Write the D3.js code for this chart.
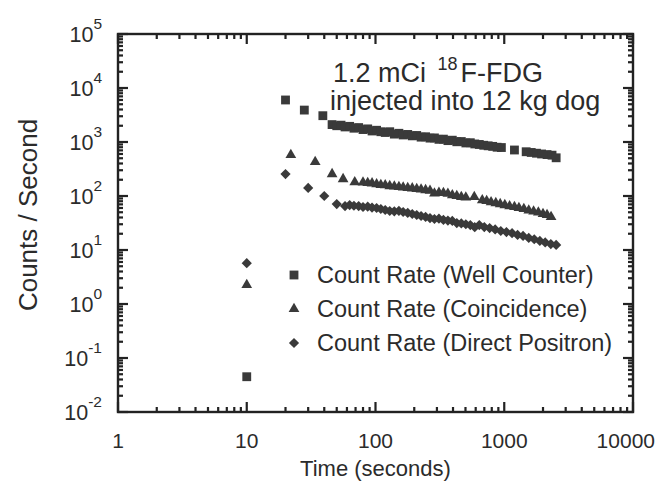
<!DOCTYPE html>
<html>
<head>
<meta charset="utf-8">
<script src="https://cdn.jsdelivr.net/npm/d3@7"></script>
<style>
  html, body { margin: 0; padding: 0; background: #fff; }
  svg { display: block; }
  text { font-family: "Liberation Sans", Arial, Helvetica, sans-serif; fill: #2b2b2b; }
</style>
</head>
<body>
<svg id="chart" width="657" height="487"></svg>
<script>
// ---------------- data ----------------
const xTickLabels = ["1", "10", "100", "1000", "10000"];
const yTickExponents = ["-2", "-1", "0", "1", "2", "3", "4", "5"];

const wellTime = [10, 20, 28, 39, 46, 50, 54, 58, 63, 68, 74, 80, 87, 94, 102, 110, 119, 129, 140, 152, 164, 178, 193, 209, 226, 245, 265, 287, 311, 337, 365, 395, 428, 464, 503, 545, 590, 640, 693, 750, 813, 880, 950, 1200, 1480, 1620, 1780, 1950, 2150, 2350, 2530];
const wellRate = [0.045, 6000, 3900, 3070, 2100, 2000, 2050, 1900, 1950, 1800, 1850, 1700, 1750, 1600, 1650, 1550, 1500, 1550, 1400, 1450, 1350, 1380, 1300, 1320, 1230, 1250, 1180, 1190, 1120, 1130, 1060, 1080, 1010, 1020, 960, 970, 920, 900, 870, 850, 830, 800, 790, 711, 660, 640, 620, 600, 585, 570, 510];

const coinTime = [10, 22, 34, 46, 56, 69, 80, 87, 94, 102, 110, 119, 129, 140, 152, 164, 178, 193, 209, 226, 245, 265, 287, 311, 337, 365, 395, 428, 464, 503, 585, 675, 730, 790, 860, 930, 1010, 1100, 1200, 1300, 1420, 1550, 1690, 1840, 2000, 2150, 2310];
const coinRate = [2.25, 575, 428, 255, 206, 181, 178, 174, 172, 165, 160, 158, 153, 150, 147, 144, 141, 139, 135, 132, 129, 125, 112, 115, 114, 110, 104, 100, 96, 94, 96, 84, 81, 77, 74, 71, 68, 65, 62.6, 60, 57.5, 54, 52, 49.5, 46.4, 44.5, 41];

const posTime = [10, 20, 30, 40, 50, 58, 63, 68, 74, 80, 87, 94, 102, 110, 119, 129, 140, 152, 164, 178, 193, 209, 226, 245, 265, 287, 311, 337, 365, 395, 428, 464, 503, 545, 590, 640, 700, 770, 850, 940, 1040, 1150, 1270, 1400, 1550, 1710, 1890, 2080, 2300, 2530];
const posRate = [5.7, 255, 141, 100, 71, 65, 68, 66, 65, 62.6, 63.5, 61, 60, 57.5, 55, 52.8, 52, 53, 50.6, 48.5, 46.4, 44.5, 42.6, 41, 39, 37.5, 38, 36, 35, 34.5, 31.5, 31, 30, 29, 26.5, 29, 26.6, 25.5, 24, 22.5, 21.5, 20.5, 19, 18.2, 16.7, 15.8, 14.7, 13.8, 12.9, 12.4];

const seriesNames = ["Count Rate (Well Counter)", "Count Rate (Coincidence)", "Count Rate (Direct Positron)"];
const seriesShapes = ["square", "triangle", "diamond"];

// ---------------- layout ----------------
const svg = d3.select("#chart");
const plot = { left: 118, right: 633, top: 34, bottom: 412 };
const ink = "#222222";
const markInk = "#3a3a3a";

const x = d3.scaleLog().domain([1, 10000]).range([plot.left, plot.right]);
const y = d3.scaleLog().domain([0.01, 100000]).range([plot.bottom, plot.top]);

const isMajor = v => Math.abs(Math.log10(v) - Math.round(Math.log10(v))) < 1e-6;
const xTicks = x.ticks();
const yTicks = y.ticks();
const xMajor = xTicks.filter(isMajor);
const yMajor = yTicks.filter(isMajor);

const majorLen = 10, minorLen = 5;
const len = d => (isMajor(d) ? majorLen : minorLen);

// tick marks (inward on all four sides) drawn as thin filled rects from the scales
const tw = 2.2;
const tg = svg.append("g").attr("fill", ink);
tg.selectAll("rect.xb").data(xTicks).join("rect").attr("class", "xb")
  .attr("x", d => x(d) - tw / 2).attr("y", d => plot.bottom - len(d))
  .attr("width", tw).attr("height", d => len(d));
tg.selectAll("rect.xt").data(xTicks).join("rect").attr("class", "xt")
  .attr("x", d => x(d) - tw / 2).attr("y", plot.top)
  .attr("width", tw).attr("height", d => len(d));
tg.selectAll("rect.yl").data(yTicks).join("rect").attr("class", "yl")
  .attr("x", plot.left).attr("y", d => y(d) - tw / 2)
  .attr("width", d => len(d)).attr("height", tw);
tg.selectAll("rect.yr").data(yTicks).join("rect").attr("class", "yr")
  .attr("x", d => plot.right - len(d)).attr("y", d => y(d) - tw / 2)
  .attr("width", d => len(d)).attr("height", tw);

// frame
svg.append("rect")
  .attr("x", plot.left).attr("y", plot.top)
  .attr("width", plot.right - plot.left).attr("height", plot.bottom - plot.top)
  .attr("fill", "none").attr("stroke", ink).attr("stroke-width", 2.4);

// x tick labels
svg.append("g").selectAll("text").data(xMajor).join("text")
  .attr("x", (d, i) => i === xMajor.length - 1 ? 655 : x(d))
  .attr("y", plot.bottom + 36)
  .attr("text-anchor", (d, i) => i === xMajor.length - 1 ? "end" : "middle")
  .attr("font-size", 21)
  .text((d, i) => xTickLabels[i]);

// y tick labels: 10 with superscript exponent
const yl = svg.append("g").selectAll("text").data(yMajor).join("text")
  .attr("x", 102).attr("y", d => y(d) + 8)
  .attr("text-anchor", "end").attr("font-size", 21.5);
yl.append("tspan").text("10");
yl.append("tspan").attr("dy", -13).attr("font-size", 15.5).text((d, i) => yTickExponents[i]);

// axis titles
svg.append("text").attr("x", (plot.left + plot.right) / 2).attr("y", 476)
  .attr("text-anchor", "middle").attr("font-size", 22).text("Time (seconds)");
svg.append("text").attr("transform", `translate(37,${(plot.top + plot.bottom) / 2 - 8}) rotate(-90)`)
  .attr("text-anchor", "middle").attr("font-size", 26).text("Counts / Second");

// ---------------- markers ----------------
function shapePath(shape) {
  if (shape === "square") return d3.symbol(d3.symbolSquare, 78)();
  if (shape === "triangle") return d3.symbol(d3.symbolTriangle, 50)();
  return d3.symbol(d3.symbolSquare, 52)();
}
function shapeRotate(shape) { return shape === "diamond" ? " rotate(45)" : ""; }

const seriesData = [
  wellTime.map((t, i) => ({ t, v: wellRate[i] })),
  coinTime.map((t, i) => ({ t, v: coinRate[i] })),
  posTime.map((t, i) => ({ t, v: posRate[i] }))
];

seriesData.forEach((data, si) => {
  const shape = seriesShapes[si];
  svg.append("g").selectAll("path").data(data).join("path")
    .attr("d", shapePath(shape))
    .attr("transform", d => `translate(${x(d.t)},${y(d.v)})${shapeRotate(shape)}`)
    .attr("fill", markInk);
});

// ---------------- legend ----------------
const legendX = 294, legendTextX = 317, legendY0 = 275, legendDy = 34;
seriesNames.forEach((name, i) => {
  const shape = seriesShapes[i];
  const cy = legendY0 + i * legendDy;
  svg.append("path").attr("d", shapePath(shape))
    .attr("transform", `translate(${legendX},${cy})${shapeRotate(shape)}`)
    .attr("fill", markInk);
  svg.append("text").attr("x", legendTextX).attr("y", cy + 8)
    .attr("font-size", 23.5).text(name);
});

// ---------------- annotation ----------------
const ann = svg.append("text").attr("x", 333).attr("y", 82).attr("font-size", 27);
ann.append("tspan").text("1.2 mCi ");
ann.append("tspan").attr("dx", 4).attr("dy", -12).attr("font-size", 18).text("18");
ann.append("tspan").attr("dx", 3).attr("dy", 12).text("F-FDG");
svg.append("text").attr("x", 330).attr("y", 110).attr("font-size", 27)
  .text("injected into 12 kg dog");
</script>
</body>
</html>
